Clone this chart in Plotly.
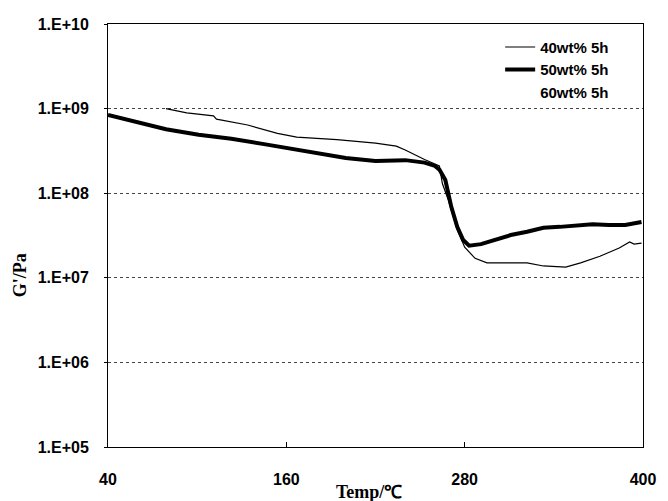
import plotly.graph_objects as go

# ---- data ----
temp_40 = [79, 93, 111, 113, 134, 154, 167, 194, 220, 234, 240, 247, 253, 263, 265, 269, 275, 280, 287, 295,
           322, 333, 348, 358, 371, 384, 391, 394, 399]
g_40 = [1.0e9, 8.9e8, 8.2e8, 7.5e8, 6.4e8, 5.1e8, 4.6e8, 4.3e8, 3.9e8, 3.6e8, 3.24e8, 2.8e8, 2.5e8, 2.1e8,
        1.3e8, 8.3e7, 3.7e7, 2.3e7, 1.7e7, 1.5e7, 1.5e7, 1.38e7, 1.34e7, 1.5e7, 1.8e7, 2.25e7, 2.65e7, 2.5e7, 2.57e7]

temp_50 = [40, 56.6, 79, 101, 123, 145, 165, 180.6, 200, 220, 240, 253, 260, 263, 267, 271, 275, 279, 283, 291,
           300, 311, 322, 333, 344, 355, 366, 377, 388, 399]
g_50 = [8.4e8, 7.1e8, 5.7e8, 4.9e8, 4.4e8, 3.8e8, 3.3e8, 3.0e8, 2.6e8, 2.4e8, 2.46e8, 2.3e8, 2.1e8, 1.9e8,
        1.43e8, 6.9e7, 4.0e7, 2.8e7, 2.4e7, 2.5e7, 2.8e7, 3.2e7, 3.5e7, 3.9e7, 4.0e7, 4.2e7, 4.3e7, 4.2e7, 4.2e7, 4.57e7]

# 60wt% 5h: listed in the legend, but no curve is visible in the reference
temp_60 = [None]
g_60 = [None]

series_names = ["40wt% 5h", "50wt% 5h", "60wt% 5h"]

x_ticks = [40, 160, 280, 400]
y_ticks = [1e5, 1e6, 1e7, 1e8, 1e9, 1e10]
y_tick_text = ["1.E+05", "1.E+06", "1.E+07", "1.E+08", "1.E+09", "1.E+10"]

sans = "Liberation Sans"
serif = "Liberation Serif"

fig = go.Figure()
fig.add_trace(go.Scatter(x=temp_40, y=g_40, mode="lines", name=series_names[0],
                         line=dict(color="black", width=1.2)))
fig.add_trace(go.Scatter(x=temp_50, y=g_50, mode="lines", name=series_names[1],
                         line=dict(color="black", width=4)))
fig.add_trace(go.Scatter(x=temp_60, y=g_60, mode="lines", name=series_names[2], showlegend=True,
                         line=dict(color="rgba(255,255,255,0)", width=1)))

fig.update_layout(
    width=668, height=501,
    margin=dict(l=108, r=17, t=24, b=54),
    paper_bgcolor="white", plot_bgcolor="white",
    showlegend=True,
    legend=dict(x=0.733, y=0.984, xanchor="left", yanchor="top",
                bgcolor="rgba(0,0,0,0)", borderwidth=0,
                font=dict(family=sans, size=15, color="black", weight="bold"),
                tracegroupgap=0, itemwidth=30),
    annotations=[
        dict(text="<b>Temp/℃</b>", x=0.4875, y=-0.106, xref="paper", yref="paper",
             xanchor="center", yanchor="middle", showarrow=False,
             font=dict(family=serif, size=18, color="black")),
        dict(text="<b>G'/Pa</b>", x=-0.164, y=0.4066, xref="paper", yref="paper",
             xanchor="center", yanchor="middle", showarrow=False, textangle=-90,
             font=dict(family=serif, size=18, color="black")),
    ],
)

fig.update_xaxes(range=[40, 400], tickvals=x_ticks, ticktext=[str(v) for v in x_ticks],
                 ticks="inside", ticklen=5, tickcolor="black",
                 showline=True, linecolor="black", linewidth=1, mirror=True,
                 showgrid=False, zeroline=False, ticklabelstandoff=18,
                 tickfont=dict(family=sans, size=16, color="black", weight="bold"))
fig.update_yaxes(type="log", range=[5, 10], tickvals=y_ticks, ticktext=y_tick_text,
                 ticks="outside", ticklen=3, tickcolor="black",
                 showline=True, linecolor="black", linewidth=1, mirror=True,
                 showgrid=True, gridcolor="#444444", griddash="dot", gridwidth=1,
                 zeroline=False, ticklabelstandoff=12,
                 tickfont=dict(family=sans, size=16, color="black", weight="bold"))

fig.write_html("out.html")
